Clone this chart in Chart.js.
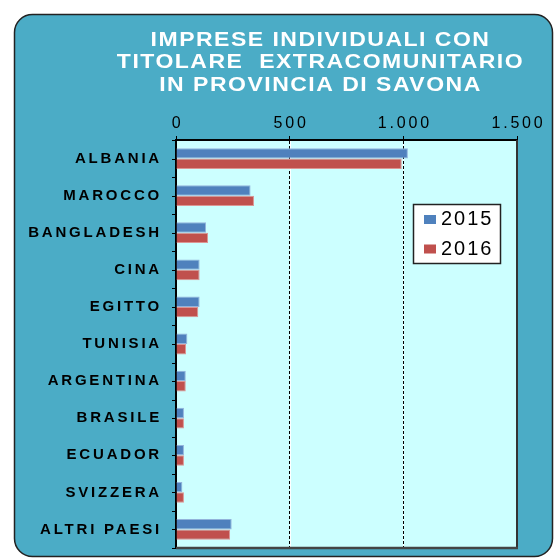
<!DOCTYPE html>
<html>
<head>
<meta charset="utf-8">
<script src="https://cdn.jsdelivr.net/npm/chart.js@4/dist/chart.umd.min.js"></script>
<style>
  body { margin: 0; background: #fff; }
  canvas { display: block; }
</style>
</head>
<body>
<canvas id="BarChart" width="555" height="559"></canvas>
<script>
const titleLines = ["IMPRESE INDIVIDUALI CON", "TITOLARE  EXTRACOMUNITARIO", "IN PROVINCIA DI SAVONA"]
const categories = ["ALBANIA", "MAROCCO", "BANGLADESH", "CINA", "EGITTO", "TUNISIA", "ARGENTINA", "BRASILE", "ECUADOR", "SVIZZERA", "ALTRI PAESI"]
const years = ["2015", "2016"]
const values2015 = [1020, 328, 132, 104, 104, 50, 43, 35, 35, 28, 245]
const values2016 = [993, 343, 141, 104, 98, 44, 43, 35, 35, 35, 238]
const xTicks = [0, 500, 1000, 1500]

const FONT = "'Liberation Sans', Arial, sans-serif"
const TEAL = "#4BACC6"
const PLOT_BG = "#CCFFFF"

// dotted thousands separator, like "1.000"
const fmt = (v) => String(v).replace(/\B(?=(\d{3})+(?!\d))/g, ".")

const frame = {
	id: "frame",
	beforeDraw(chart) {
		const { ctx, chartArea: a, scales } = chart
		ctx.save()
		ctx.fillStyle = "#fff"
		ctx.fillRect(0, 0, chart.width, chart.height)
		// rounded panel
		ctx.beginPath()
		ctx.roundRect(14.5, 14.5, 538, 542, 18)
		ctx.fillStyle = TEAL
		ctx.fill()
		ctx.lineWidth = 1.5
		ctx.strokeStyle = "#222"
		ctx.stroke()
		// plot area
		ctx.fillStyle = PLOT_BG
		ctx.fillRect(a.left, a.top, a.right - a.left, a.bottom - a.top)
		// white under the dashed grid lines
		ctx.strokeStyle = "#fff"
		ctx.lineWidth = 1
		xTicks.slice(1, -1).forEach((t) => {
			const x = Math.round(scales.x.getPixelForValue(t)) + 0.5
			ctx.beginPath()
			ctx.moveTo(x, a.top)
			ctx.lineTo(x, a.bottom)
			ctx.stroke()
		})
		// title, a little wider than the plain font
		ctx.fillStyle = "#fff"
		ctx.font = "bold 20px " + FONT
		ctx.letterSpacing = "1.3px"
		ctx.textAlign = "center"
		ctx.textBaseline = "middle"
		ctx.translate(320.5, 0)
		ctx.scale(1.15, 1)
		titleLines.forEach((t, i) => ctx.fillText(t, 0, 40 + i * 22.5))
		ctx.restore()
		ctx.letterSpacing = "2.8px"
	},
	afterDraw(chart) {
		const { ctx, chartArea: a, data } = chart
		ctx.save()
		ctx.letterSpacing = "0px"
		// right and bottom edges
		ctx.strokeStyle = "#333"
		ctx.lineWidth = 2
		ctx.beginPath()
		ctx.moveTo(a.right, a.top)
		ctx.lineTo(a.right, a.bottom)
		ctx.stroke()
		ctx.strokeStyle = "#444"
		ctx.lineWidth = 2.5
		ctx.beginPath()
		ctx.moveTo(a.left, a.bottom)
		ctx.lineTo(a.right + 1, a.bottom)
		ctx.stroke()
		// category axis tick marks, at boundaries and centres
		ctx.strokeStyle = "#000"
		ctx.lineWidth = 1
		const n = categories.length * 2
		for (let k = 0; k <= n; k++) {
			const y = Math.round(a.top + (k * (a.bottom - a.top)) / n) + 0.5
			ctx.beginPath()
			ctx.moveTo(a.left - 4, y)
			ctx.lineTo(a.left, y)
			ctx.stroke()
		}
		// legend
		ctx.fillStyle = "#fff"
		ctx.fillRect(413.5, 204.5, 87, 59)
		ctx.strokeStyle = "#222"
		ctx.lineWidth = 1.5
		ctx.strokeRect(413.5, 204.5, 87, 59)
		ctx.font = "20px " + FONT
		ctx.letterSpacing = "2px"
		ctx.textBaseline = "middle"
		ctx.textAlign = "left"
		data.datasets.forEach((ds, i) => {
			const y = 219.5 + i * 29.5
			ctx.fillStyle = ds.backgroundColor
			ctx.fillRect(424, y - 4.5, 12, 9)
			ctx.fillStyle = "#000"
			ctx.fillText(ds.label, 441, y)
		})
		ctx.restore()
	},
}

new Chart(document.getElementById("BarChart"), {
	type: "bar",
	data: {
		labels: categories,
		datasets: [
			{
				label: years[0],
				data: values2015,
				backgroundColor: "#4F81BD",
				borderColor: "#93B3DB",
				borderWidth: 1,
			},
			{
				label: years[1],
				data: values2016,
				backgroundColor: "#C0504D",
				borderColor: "#DC9593",
				borderWidth: 1,
			},
		],
	},
	options: {
		indexAxis: "y",
		responsive: false,
		animation: false,
		events: [],
		categoryPercentage: 0.56,
		barPercentage: 1,
		layout: { padding: { top: 100, left: 14, right: 38, bottom: 11 } },
		plugins: {
			legend: { display: false },
			title: { display: false },
			tooltip: { enabled: false },
		},
		scales: {
			x: {
				position: "top",
				min: xTicks[0],
				max: xTicks[xTicks.length - 1],
				afterFit: (s) => {
					s.height = 40
					s.paddingLeft = 0
					s.paddingRight = 0
				},
				ticks: {
					stepSize: 500,
					color: "#000",
					font: { family: FONT, size: 16 },
					padding: 3,
					labelOffset: 1.5,
					callback: (v) => fmt(v),
				},
				grid: {
					color: "#000",
					lineWidth: 1,
					tickLength: 4,
					tickColor: "#000",
					tickBorderDash: [],
				},
				border: { display: true, color: "#000", width: 2, dash: [3, 2] },
			},
			y: {
				afterFit: (s) => {
					s.width = 162
					s.paddingTop = 0
					s.paddingBottom = 0
				},
				ticks: {
					color: "#000",
					font: { family: FONT, size: 15, weight: "bold" },
					padding: 14,
				},
				grid: { display: false, drawTicks: false },
				border: { display: true, color: "#000", width: 2 },
			},
		},
	},
	plugins: [frame],
})
</script>
</body>
</html>
